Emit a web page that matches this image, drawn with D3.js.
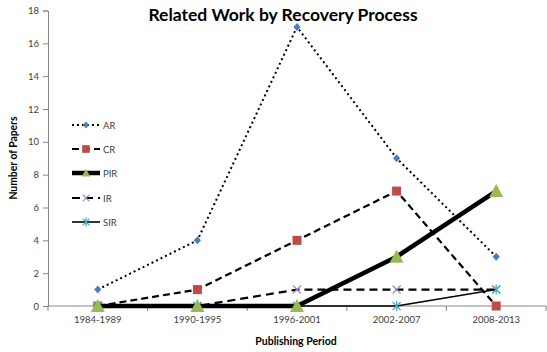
<!DOCTYPE html>
<html><head><meta charset="utf-8">
<script src="https://cdn.jsdelivr.net/npm/d3@7"></script>
<style>body{margin:0;background:#fff;} svg{display:block;}</style>
</head><body>
<script>
const categories = ["1984-1989","1990-1995","1996-2001","2002-2007","2008-2013"];
const seriesNames = ["AR","CR","PIR","IR","SIR"];
const AR  = [1,4,17,9,3];
const CR  = [0,1,4,7,0];
const PIR = [0,0,0,3,7];
const IR  = [0,0,1,1,1];
const SIR = [0,0,0,0,1];
const yTicks = [0,2,4,6,8,10,12,14,16,18];

const styles = {
  AR:  {values: AR,  width: 2,   dash: "2,3", color: "#4a7ebb", marker: "diamond"},
  CR:  {values: CR,  width: 2.2, dash: "7,4", color: "#be4b48", marker: "square"},
  PIR: {values: PIR, width: 4.5, dash: null,  color: "#98b954", marker: "triangle"},
  IR:  {values: IR,  width: 2.2, dash: "8,5", color: "#9a8fc9", marker: "x"},
  SIR: {values: SIR, width: 1.6, dash: null,  color: "#4bacc6", marker: "star"}
};

const W = 547, H = 352;
const svg = d3.select("body").append("svg").attr("width", W).attr("height", H);
const font = "Lato, 'Open Sans', sans-serif";

const x = d3.scaleBand().domain(categories).range([48, 546]);
const y = d3.scaleLinear().domain([0, 18]).range([306, 10.5]);

// axes
const gy = svg.append("g").attr("transform","translate(48,0)")
  .call(d3.axisLeft(y).tickValues(yTicks).tickSize(5).tickPadding(4));
gy.select(".domain").attr("stroke","#868686");
gy.selectAll(".tick line").attr("stroke","#868686");
gy.selectAll("text").attr("font-family",font).attr("font-size","9.5px").attr("fill","#404040");

const gx = svg.append("g").attr("transform","translate(0,306)")
  .call(d3.axisBottom(x).tickSize(0).tickPadding(10));
gx.select(".domain").attr("stroke","#868686").attr("d","M48,0H546");
gx.selectAll("text").attr("font-family",font).attr("font-size","9.5px").attr("fill","#404040");
// boundary ticks
const bounds = categories.map(c => x(c)).concat([x.range()[1]]);
svg.append("g").selectAll("line").data(bounds).join("line")
  .attr("x1", d=>d).attr("x2", d=>d).attr("y1",306).attr("y2",311)
  .attr("stroke","#868686");

// titles
svg.append("text").attr("x", 283).attr("y", 21).attr("text-anchor","middle")
  .attr("font-family",font).attr("font-weight","bold").attr("font-size","17.5px").attr("fill","#000")
  .text("Related Work by Recovery Process");
svg.append("text").attr("x", 296).attr("y", 345).attr("text-anchor","middle")
  .attr("font-family",font).attr("font-weight","bold").attr("font-size","10.5px").attr("fill","#000")
  .text("Publishing Period");
svg.append("text").attr("transform","translate(17,158) rotate(-90)").attr("text-anchor","middle")
  .attr("font-family",font).attr("font-weight","bold").attr("font-size","11px").attr("fill","#000")
  .attr("textLength", 83).attr("lengthAdjust","spacingAndGlyphs")
  .text("Number of Papers");

function drawMarker(g, type, cx, cy, color, k) {
  k = k || 1;
  if (type === "diamond") {
    const a = 3.6*k, b = 4*k;
    g.append("path").attr("d", `M${cx},${cy-b}L${cx+a},${cy}L${cx},${cy+b}L${cx-a},${cy}Z`).attr("fill", color);
  } else if (type === "square") {
    const h = 4.5*k;
    g.append("rect").attr("x",cx-h).attr("y",cy-h).attr("width",2*h).attr("height",2*h).attr("fill",color);
  } else if (type === "triangle") {
    const h = 7*k;
    g.append("path").attr("d", `M${cx},${cy-h}L${cx+h},${cy+h*0.85}L${cx-h},${cy+h*0.85}Z`).attr("fill",color);
  } else if (type === "x") {
    const h = 4*k;
    g.append("path").attr("d", `M${cx-h},${cy-h}L${cx+h},${cy+h}M${cx-h},${cy+h}L${cx+h},${cy-h}`)
      .attr("stroke",color).attr("stroke-width",1.3);
  } else if (type === "star") {
    const h = 4*k;
    g.append("path").attr("d", `M${cx-h},${cy-h}L${cx+h},${cy+h}M${cx-h},${cy+h}L${cx+h},${cy-h}M${cx},${cy-h-1}L${cx},${cy+h+1}`)
      .attr("stroke",color).attr("stroke-width",1.3);
  }
}

const line = d3.line().x((d,i)=>x(categories[i]) + x.bandwidth()/2).y(d=>y(d));

const drawOrder = ["AR","CR","IR","SIR","PIR"];
drawOrder.forEach(name => {
  const s = styles[name];
  const g = svg.append("g");
  g.append("path").datum(s.values).attr("d", line).attr("fill","none")
    .attr("stroke","#000").attr("stroke-width", s.width)
    .attr("stroke-dasharray", s.dash);
  s.values.forEach((v,i) => drawMarker(g, s.marker, x(categories[i]) + x.bandwidth()/2, y(v), s.color));
});

// legend
const legY = [125,149,173,198,222];
seriesNames.forEach((name, i) => {
  const s = styles[name];
  const g = svg.append("g");
  const ly = legY[i];
  g.append("line").attr("x1",72).attr("x2",100).attr("y1",ly).attr("y2",ly)
    .attr("stroke","#000").attr("stroke-width", s.width).attr("stroke-dasharray", s.dash);
  drawMarker(g, s.marker, 86, ly, s.color, name === "PIR" ? 0.6 : 0.85);
  g.append("text").attr("x",103).attr("y",ly+3.5).attr("font-family",font)
    .attr("font-size","9.5px").attr("fill","#404040").text(name);
});
</script>
</body></html>
